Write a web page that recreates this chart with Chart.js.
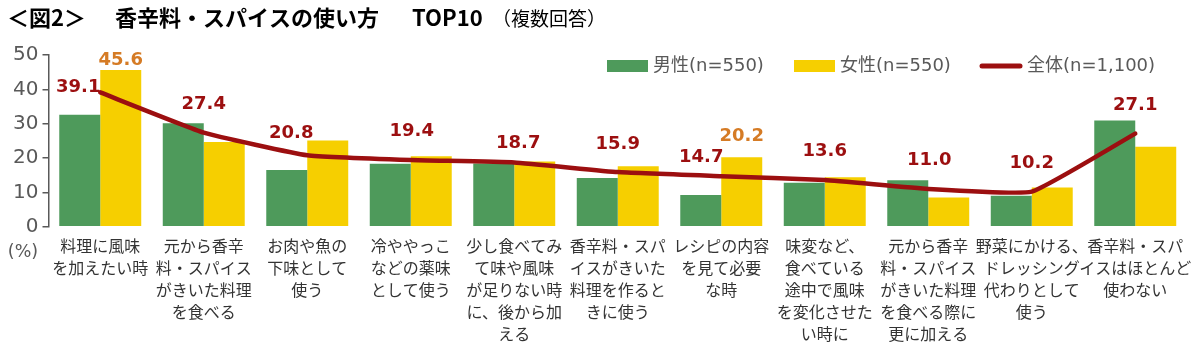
<!DOCTYPE html>
<html><head><meta charset="utf-8">
<script src="https://cdn.jsdelivr.net/npm/chart.js@4.4.1/dist/chart.umd.min.js"></script>
<style>html,body{margin:0;padding:0;background:#fff}#wrap{width:1200px;height:356px;position:relative}</style>
</head><body><div id="wrap"><canvas id="c" width="1200" height="356"></canvas></div>
<script>
const categories = [
  ["料理に風味","を加えたい時"],
  ["元から香辛","料・スパイス","がきいた料理","を食べる"],
  ["お肉や魚の","下味として","使う"],
  ["冷ややっこ","などの薬味","として使う"],
  ["少し食べてみ","て味や風味","が足りない時","に、後から加","える"],
  ["香辛料・スパ","イスがきいた","料理を作ると","きに使う"],
  ["レシピの内容","を見て必要","な時"],
  ["味変など、","食べている","途中で風味","を変化させた","い時に"],
  ["元から香辛","料・スパイス","がきいた料理","を食べる際に","更に加える"],
  ["野菜にかける、","ドレッシング","代わりとして","使う"],
  ["香辛料・スパ","イスはほとんど","使わない"]
];
const male   = [32.6, 30.1, 16.5, 18.3, 18.4, 14.2, 9.2, 12.8, 13.5, 9.0, 30.9];
const female = [45.6, 24.7, 25.1, 20.5, 19.0, 17.6, 20.2, 14.4, 8.5, 11.4, 23.3];
const total  = [39.1, 27.4, 20.8, 19.4, 18.7, 15.9, 14.7, 13.6, 11.0, 10.2, 27.1];
const yTicks = [0, 10, 20, 30, 40, 50];
const seriesNames = ["男性(n=550)", "女性(n=550)", "全体(n=1,100)"];
const femaleLabelIdx = [0, 6];

// label offsets (layout only)
const totalLabelOffset = [[-22,-5],[0,-28],[-16,-22],[1,-29],[4,-19],[0,-28],[-20,-19],[0,-29],[1,-29],[0,-28],[0,-28]];
const femaleLabelOffset = {0:[0,-10], 6:[0,-21]};

const GREEN = '#4E9A5B', YELLOW = '#F6CF00', RED = '#9C0F10', ORANGE = '#D57B25', GRAY = '#595959';

const textPlugin = {
  id: 'textPlugin',
  afterDraw(chart) {
    const ctx = chart.ctx;
    ctx.save();
    // title
    ctx.fillStyle = '#000';
    ctx.textBaseline = 'middle';
    ctx.textAlign = 'left';
    ctx.font = 'bold 22px "Noto Sans CJK JP"';
    ctx.fillText('＜図2＞', 7, 18);
    ctx.fillText('香辛料・スパイスの使い方', 115, 18);
    ctx.fillText('TOP10', 412, 18);
    ctx.font = '19px "Noto Sans CJK JP"';
    ctx.fillText('（複数回答）', 492, 19);
    // (%)
    ctx.fillStyle = GRAY;
    ctx.font = '17.5px "DejaVu Sans"';
    ctx.textAlign = 'center';
    ctx.fillText('(%)', 23, 252);
    // legend
    ctx.font = '18px "DejaVu Sans", "Noto Sans CJK JP"';
    ctx.textAlign = 'left';
    const ly = 66;
    ctx.fillStyle = GREEN; ctx.fillRect(607, 60, 41, 12);
    ctx.fillStyle = GRAY; ctx.fillText(seriesNames[0], 653, ly);
    ctx.fillStyle = YELLOW; ctx.fillRect(794, 60, 41, 12);
    ctx.fillStyle = GRAY; ctx.fillText(seriesNames[1], 840, ly);
    ctx.strokeStyle = RED; ctx.lineWidth = 5; ctx.lineCap = 'round';
    ctx.beginPath(); ctx.moveTo(982, ly); ctx.lineTo(1020, ly); ctx.stroke();
    ctx.fillStyle = GRAY; ctx.fillText(seriesNames[2], 1027, ly);
    // data labels
    ctx.font = 'bold 18px "DejaVu Sans"';
    ctx.textAlign = 'center';
    const lineMeta = chart.getDatasetMeta(2);
    lineMeta.data.forEach((pt, i) => {
      const o = totalLabelOffset[i];
      ctx.fillStyle = RED;
      ctx.fillText(total[i].toFixed(1), pt.x + o[0], pt.y + o[1]);
    });
    const fMeta = chart.getDatasetMeta(1);
    femaleLabelIdx.forEach(i => {
      const b = fMeta.data[i];
      const o = femaleLabelOffset[i];
      ctx.fillStyle = ORANGE;
      ctx.fillText(female[i].toFixed(1), b.x + o[0], b.y + o[1]);
    });
    ctx.restore();
  }
};

new Chart(document.getElementById('c'), {
  type: 'bar',
  data: {
    labels: categories,
    datasets: [
      { label: seriesNames[0], data: male, backgroundColor: GREEN, order: 2, barPercentage: 1, categoryPercentage: 0.792 },
      { label: seriesNames[1], data: female, backgroundColor: YELLOW, order: 2, barPercentage: 1, categoryPercentage: 0.792 },
      { label: seriesNames[2], data: total, type: 'line', borderColor: RED, backgroundColor: RED, borderWidth: 4.5, pointRadius: 0, tension: 0.12, order: 0, borderCapStyle: 'round', borderJoinStyle: 'round' }
    ]
  },
  options: {
    responsive: false,
    animation: false,
    layout: { padding: { top: 55, right: 13, bottom: 0, left: 0 } },
    plugins: { legend: { display: false }, tooltip: { enabled: false }, title: { display: false } },
    scales: {
      x: {
        grid: { display: false, drawTicks: false },
        border: { display: false },
        ticks: { color: '#333333', font: { family: '"Noto Sans CJK JP"', size: 16, lineHeight: 1.375 }, padding: 8, maxRotation: 0, autoSkip: false },
        afterFit(scale) { scale.height = 129.3; }
      },
      y: {
        min: 0, max: 50,
        afterBuildTicks(scale) { scale.ticks = yTicks.map(v => ({ value: v })); },
        grid: { drawOnChartArea: false, drawTicks: true, tickLength: 6, color: GRAY, lineWidth: 1.5 },
        border: { display: true, color: GRAY, width: 1.5 },
        ticks: { color: GRAY, font: { family: '"DejaVu Sans"', size: 20 }, padding: 4 },
        afterFit(scale) { scale.width = 48.5; }
      }
    }
  },
  plugins: [textPlugin]
});
</script></body></html>
